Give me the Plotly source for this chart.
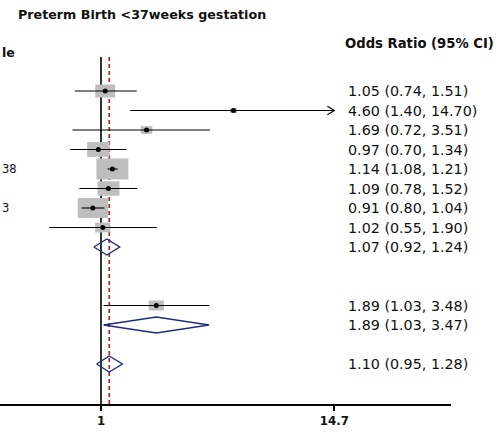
import numpy as np
import plotly.graph_objects as go

# ---- data -------------------------------------------------------------
study_or = [1.05, 4.60, 1.69, 0.97, 1.14, 1.09, 0.91, 1.02, 1.89]
study_lo = [0.74, 1.40, 0.72, 0.70, 1.08, 0.78, 0.80, 0.55, 1.03]
study_hi = [1.51, 14.70, 3.51, 1.34, 1.21, 1.52, 1.04, 1.90, 3.48]
study_weight = [10.0, 1.3, 3.4, 12.7, 25.8, 12.1, 23.1, 5.8, 5.8]  # percent
study_row = [0, 1, 2, 3, 4, 5, 6, 7, 11]

pooled_or = [1.07, 1.89, 1.10]
pooled_lo = [0.92, 1.03, 0.95]
pooled_hi = [1.24, 3.47, 1.28]
pooled_row = [8, 12, 14]

overall_or = 1.10
axis_max = 14.7
tick_vals = [1, 14.7]
tick_text = ["1", "14.7"]

title = "Preterm Birth <37weeks gestation"
header_left = "le"
header_right = "Odds Ratio (95% CI)"
left_fragments = [("38", 4), ("3", 6)]

# ---- styling ----------------------------------------------------------
W, H = 496, 433
PLOT_BOTTOM = 404          # pixel row of the x axis
ROW0, ROW_H = 91, 19.5     # first row pixel centre, row height
PX_PER_DECADE = 199.9
X_ONE = 101                # pixel of OR = 1
X_END = 451                # right end of the axis line

FONT = "DejaVu Sans"
BOX_COLOR = "#bebebe"
DIAMOND_COLOR = "#1f2a80"
REF_RED = "#9e2a2b"
TXT = "#111111"

y_top = -ROW0 / ROW_H
y_bot = (PLOT_BOTTOM - ROW0) / ROW_H
x_left = -X_ONE / PX_PER_DECADE
x_right = (X_END - X_ONE) / PX_PER_DECADE


def fmt(e, lo, hi):
    return f"{e:.2f} ({lo:.2f}, {hi:.2f})"


def px_factor(px):
    """Multiplicative step on the log axis equal to px screen pixels."""
    return 10 ** (px / PX_PER_DECADE)


fig = go.Figure()
shapes = []

# reference lines: null effect and overall estimate
line_top = 1 - 57 / PLOT_BOTTOM
shapes.append(dict(type="line", xref="x", yref="paper", x0=1, x1=1,
                   y0=0, y1=line_top, layer="below",
                   line=dict(color="black", width=1.6)))
shapes.append(dict(type="line", xref="x", yref="paper", x0=overall_or,
                   x1=overall_or, y0=0, y1=line_top, layer="below",
                   line=dict(color=REF_RED, width=1.7, dash="4px,3px")))

# study weight boxes
for e, w, r in zip(study_or, study_weight, study_row):
    bw = 6.3 * np.sqrt(w)
    bh = 4.15 * np.sqrt(w)
    f = px_factor(bw / 2)
    shapes.append(dict(type="rect", xref="x", yref="y",
                       x0=e / f, x1=e * f,
                       ysizemode="pixel", yanchor=r, y0=-bh / 2, y1=bh / 2,
                       fillcolor=BOX_COLOR, line=dict(width=0), layer="below"))

# confidence interval lines
ci_x, ci_y = [], []
for lo, hi, r in zip(study_lo, study_hi, study_row):
    ci_x += [lo, min(hi, axis_max), None]
    ci_y += [r, r, None]
fig.add_trace(go.Scatter(x=ci_x, y=ci_y, mode="lines",
                         line=dict(color="black", width=1.1),
                         hoverinfo="skip", showlegend=False))

# arrow head where an interval reaches the axis limit
arr_x, arr_y = [], []
back = 1 / px_factor(7)
for hi, r in zip(study_hi, study_row):
    if hi >= axis_max:
        tip = min(hi, axis_max)
        arr_x += [tip * back, tip, tip * back, None]
        arr_y += [r - 0.22, r, r + 0.22, None]
fig.add_trace(go.Scatter(x=arr_x, y=arr_y, mode="lines",
                         line=dict(color="black", width=1.1),
                         hoverinfo="skip", showlegend=False))

# point estimates
fig.add_trace(go.Scatter(x=study_or, y=study_row, mode="markers",
                         marker=dict(color="black", size=5, symbol="circle"),
                         hoverinfo="skip", showlegend=False))

# pooled diamonds
for e, lo, hi, r in zip(pooled_or, pooled_lo, pooled_hi, pooled_row):
    fig.add_trace(go.Scatter(x=[lo, e, hi, e, lo],
                             y=[r, r - 0.41, r, r + 0.41, r],
                             mode="lines",
                             line=dict(color=DIAMOND_COLOR, width=1.4),
                             hoverinfo="skip", showlegend=False))

annotations = []
text_x = 346 / W
for e, lo, hi, r in list(zip(study_or, study_lo, study_hi, study_row)) + \
        list(zip(pooled_or, pooled_lo, pooled_hi, pooled_row)):
    annotations.append(dict(xref="paper", yref="y", x=text_x, y=r,
                            xanchor="left", yanchor="middle", showarrow=False,
                            text=fmt(e, lo, hi),
                            font=dict(family=FONT, size=14.3, color=TXT)))

annotations.append(dict(xref="paper", yref="paper", x=16 / W,
                        y=1 - 14 / PLOT_BOTTOM, xanchor="left",
                        yanchor="middle", showarrow=False, text=title,
                        font=dict(family=FONT, size=12.7, color=TXT,
                                  weight="bold")))
annotations.append(dict(xref="paper", yref="y", x=343 / W, y=-2.45,
                        xanchor="left", yanchor="middle", showarrow=False,
                        text=header_right,
                        font=dict(family=FONT, size=13.2, color=TXT,
                                  weight="bold")))
annotations.append(dict(xref="paper", yref="y", x=0, y=-2.0,
                        xanchor="left", yanchor="middle", showarrow=False,
                        text=header_left,
                        font=dict(family=FONT, size=12.5, color=TXT,
                                  weight="bold")))
for txt, r in left_fragments:
    annotations.append(dict(xref="paper", yref="y", x=0, y=r,
                            xanchor="left", yanchor="middle",
                            showarrow=False, text=txt,
                            font=dict(family=FONT, size=11.5, color=TXT)))

fig.update_layout(
    width=W, height=H,
    margin=dict(l=0, r=0, t=0, b=H - PLOT_BOTTOM),
    paper_bgcolor="white", plot_bgcolor="white",
    shapes=shapes, annotations=annotations, showlegend=False,
    xaxis=dict(type="log", range=[x_left, x_right], domain=[0, X_END / W],
               showgrid=False, zeroline=False, showline=True,
               linecolor="black", linewidth=1.5,
               ticks="outside", ticklen=5, tickwidth=1.5, tickcolor="black",
               tickvals=tick_vals, ticktext=tick_text,
               tickfont=dict(family=FONT, size=11.8, color=TXT,
                             weight="bold")),
    yaxis=dict(range=[y_bot, y_top], visible=False, domain=[0, 1]),
)

fig.write_html("out.html")
